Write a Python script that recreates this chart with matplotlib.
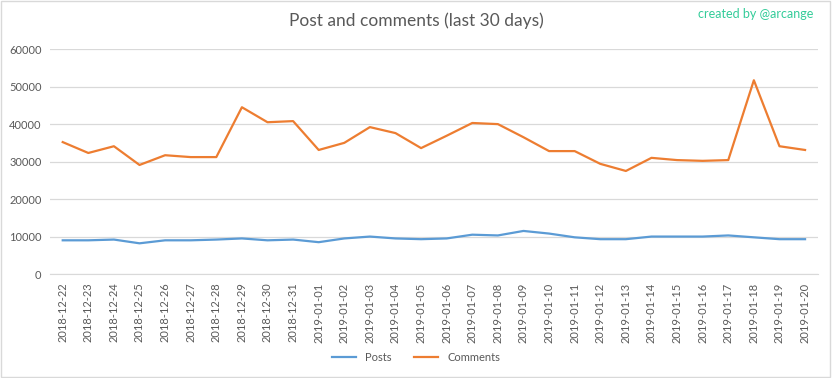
import matplotlib
matplotlib.use("Agg")
import matplotlib.pyplot as plt
from matplotlib.patches import Rectangle

dates = ["2018-12-22", "2018-12-23", "2018-12-24", "2018-12-25", "2018-12-26",
         "2018-12-27", "2018-12-28", "2018-12-29", "2018-12-30", "2018-12-31",
         "2019-01-01", "2019-01-02", "2019-01-03", "2019-01-04", "2019-01-05",
         "2019-01-06", "2019-01-07", "2019-01-08", "2019-01-09", "2019-01-10",
         "2019-01-11", "2019-01-12", "2019-01-13", "2019-01-14", "2019-01-15",
         "2019-01-16", "2019-01-17", "2019-01-18", "2019-01-19", "2019-01-20"]

posts = [9000, 9000, 9200, 8200, 9000, 9000, 9200, 9500, 9000, 9200,
         8500, 9500, 10000, 9500, 9300, 9500, 10500, 10300, 11500, 10800,
         9800, 9300, 9300, 10000, 10000, 10000, 10300, 9800, 9300, 9300]

comments = [35200, 32300, 34100, 29100, 31700, 31200, 31200, 44500, 40500, 40800,
            33100, 35000, 39200, 37600, 33600, 36900, 40300, 40000, 36500, 32800,
            32800, 29400, 27500, 31000, 30400, 30200, 30400, 51700, 34100, 33100]

yticks = [0, 10000, 20000, 30000, 40000, 50000, 60000]

plt.rcParams['font.family'] = ['Lato', 'DejaVu Sans']
text_color = '#595959'

fig = plt.figure(figsize=(8.32, 3.78), dpi=100)
ax = fig.add_axes([0.060, 0.275, 0.923, 0.595])

x = list(range(len(dates)))
ax.plot(x, posts, color='#5B9BD5', linewidth=1.6, label='Posts')
ax.plot(x, comments, color='#ED7D31', linewidth=1.6, label='Comments')

ax.set_xlim(-0.5, len(dates) - 0.5)
ax.set_ylim(0, 60000)
ax.set_yticks(yticks)
ax.set_yticklabels([str(v) for v in yticks], fontsize=8, color=text_color)
ax.set_xticks(x)
ax.set_xticklabels(dates, rotation=90, fontsize=8, color=text_color)
ax.tick_params(axis='both', length=0, pad=6)
ax.grid(axis='y', color='#d9d9d9', linewidth=0.9)
ax.set_axisbelow(True)
for s in ['top', 'right', 'left']:
    ax.spines[s].set_visible(False)
ax.spines['bottom'].set_color('#d9d9d9')

fig.text(0.5, 0.945, 'Post and comments (last 30 days)', ha='center', va='center',
         fontsize=12.5, color=text_color)
fig.text(0.978, 0.963, 'created by @arcange', ha='right', va='center',
         fontsize=9, color='#33cc99')

fig.legend(loc='center', bbox_to_anchor=(0.5, 0.055), ncol=2, frameon=False,
           fontsize=8, labelcolor=text_color, handlelength=2.2, columnspacing=2.0)

fig.patches.append(Rectangle((0.001, 0.002), 0.997, 0.995, transform=fig.transFigure,
                             fill=False, edgecolor='#d9d9d9', linewidth=1))

fig.savefig('out.png', dpi=100)
